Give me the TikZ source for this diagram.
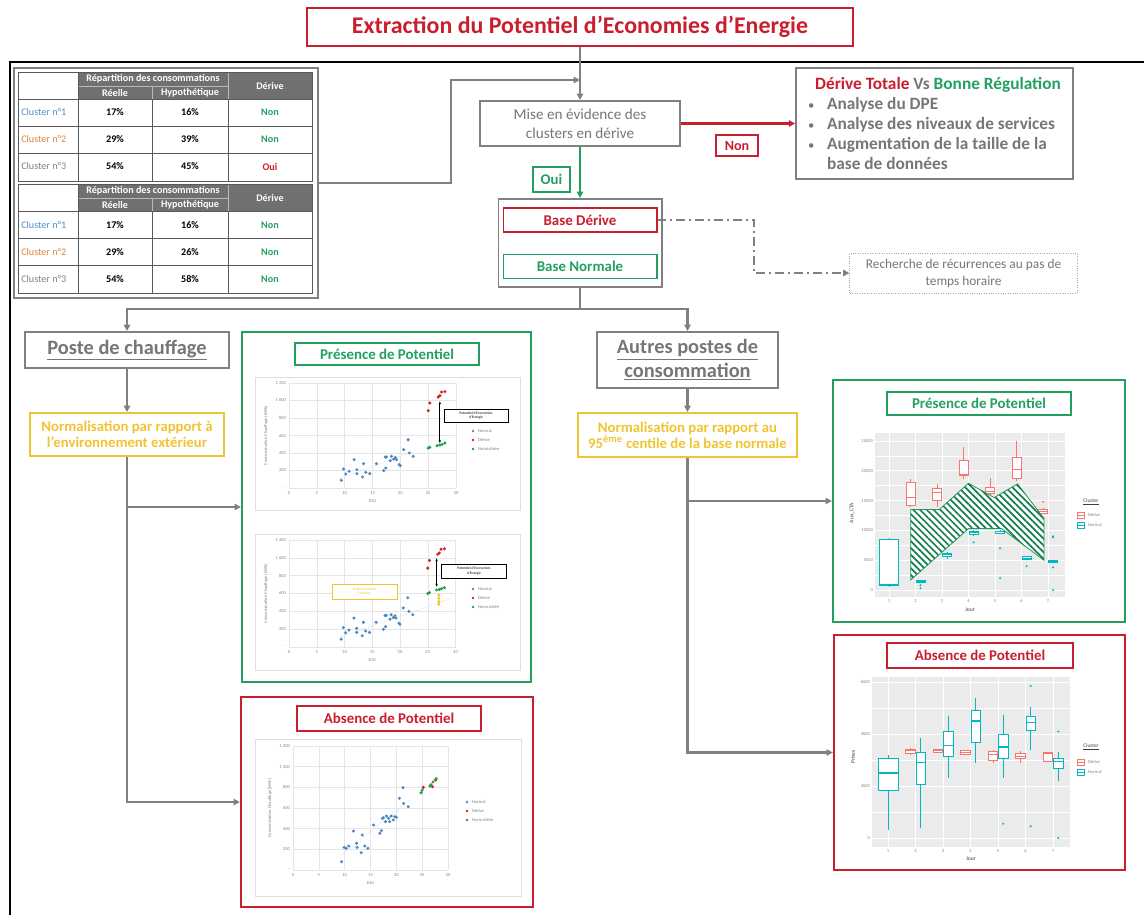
\documentclass[tikz,border=0pt]{standalone}
\usepackage{fontspec}
\setmainfont{Carlito}
\usepackage{tikz}
\usetikzlibrary{arrows.meta,positioning,calc,patterns.meta}

\definecolor{redd}{RGB}{200,30,45}
\definecolor{greenn}{RGB}{35,160,95}
\definecolor{yelloww}{RGB}{240,195,50}
\definecolor{grayy}{RGB}{128,128,128}
\definecolor{txtgray}{RGB}{118,118,118}
\definecolor{tabhead}{RGB}{112,112,112}
\definecolor{clblue}{RGB}{80,140,200}
\definecolor{clorange}{RGB}{215,135,55}
\definecolor{ptblue}{RGB}{80,135,195}
\definecolor{ptred}{RGB}{215,30,35}
\definecolor{ptgreen}{RGB}{30,160,70}
\definecolor{dcol}{RGB}{248,118,109}
\definecolor{ncol}{RGB}{0,185,190}
\definecolor{panelgray}{RGB}{235,235,235}
\definecolor{hatchgreen}{RGB}{25,125,80}

% axes, grid and legend of a DJU scatter chart
\newcommand{\dujaxes}[2]{%
  \foreach \gx in {0,5,...,30}{
    \draw[gridln] ({\gx*\unx},0) -- ({\gx*\unx},{-1200*\uny});
    \node[ticklbl, anchor=north] (xt\gx) at ({\gx*\unx},2) {\gx};}
  \foreach \gy/\gl in {0/-,200/200,400/400,600/600,800/800,1000/1 000,1200/1 200}{
    \draw[gridln] (0,{-\gy*\uny}) -- ({30*\unx},{-\gy*\uny});
    \node[ticklbl, anchor=east] (yt\gy) at (-2,{-\gy*\uny}) {\gl};}
  \node[ticklbl] (djulbl) at ({15*\unx},13) {DJU};
  \node[ticklbl, rotate=90] (conslbl) at (-23,{-600*\uny}) {Consommation Chauffage [kWh]};
  \foreach \ly/\lc/\lt in {0/ptblue/Normal,9/ptred/Dérive,18/ptgreen/Normalisée}{
    \fill[\lc] (#1,{#2+\ly}) circle (1pt);
    \node[ticklbl, anchor=west] (lg\ly) at ({#1+4},{#2+\ly}) {\lt};}
}
% one box of a box plot: pos, half width, low, q1, median, q3, high, colour
\newcommand{\bxp}[8]{%
  \draw[#8, line width=0.4pt] ({\orgx+(#1-1)*\unx},{\orgy-(#3)*\uny}) -- ({\orgx+(#1-1)*\unx},{\orgy-(#7)*\uny});
  \draw[#8, fill=white, line width=0.4pt] ({\orgx+(#1-1-#2)*\unx},{\orgy-(#4)*\uny}) rectangle ({\orgx+(#1-1+#2)*\unx},{\orgy-(#6)*\uny});
  \draw[#8, line width=0.8pt] ({\orgx+(#1-1-#2)*\unx},{\orgy-(#5)*\uny}) -- ({\orgx+(#1-1+#2)*\unx},{\orgy-(#5)*\uny});}
\newcommand{\outl}[3]{\fill[#3] ({\orgx+(#1-1)*\unx},{\orgy-(#2)*\uny}) circle (0.8pt);}
\newcommand{\bul}{{\mdseries\fontsize{9}{9}\selectfont •}\hspace{9pt}}

\begin{document}
\begin{tikzpicture}[x=0.025cm, y=-0.025cm,
    frm/.style={draw, line width=1.4pt, align=center, inner sep=2pt},
    graybox/.style={frm, draw=grayy, text=txtgray},
    redbox/.style={frm, draw=redd, text=redd, fill=white},
    greenbox/.style={frm, draw=greenn, text=greenn, fill=white},
    yellowbox/.style={frm, draw=yelloww, text=yelloww},
    panel/.style={draw, line width=1.5pt, inner sep=0pt},
    conn/.style={draw=grayy, line width=1.6pt, -{Triangle[length=4.5pt,width=4.5pt]}},
    link/.style={draw=grayy, line width=1.6pt},
    nonarrow/.style={draw=redd, line width=1.5pt, -{Triangle[length=4.5pt,width=4.5pt]}},
    ouiarrow/.style={draw=greenn, line width=1.5pt, -{Triangle[length=4.5pt,width=4.5pt]}},
    dasharrow/.style={draw=grayy, line width=1.4pt, dash pattern=on 6pt off 3pt on 1.5pt off 3pt, -{Triangle[length=4.5pt,width=4.5pt]}},
    gridln/.style={gray!20, line width=0.3pt},
    ticklbl/.style={font=\fontsize{3.2}{3.8}\selectfont, text=gray, inner sep=0.6pt},
    headtxt/.style={font=\fontsize{7.2}{8}\selectfont\bfseries, text=white, inner sep=0pt},
    celltxt/.style={font=\fontsize{7.2}{8.5}\selectfont, inner sep=0pt},
    pct/.style={font=\fontsize{7.2}{8.5}\selectfont\bfseries, inner sep=0pt},
    ptitle/.style={font=\fontsize{10.6}{12}\selectfont\bfseries},
]
\useasboundingbox (0,0) rectangle (1144,915);

% outer frame
\draw[black, line width=1.5pt] (10,915) -- (10,62) -- (1144,62);

% top of the flow
\node[redbox, font=\fontsize{17}{20}\selectfont\bfseries, minimum width=13.65cm, minimum height=0.95cm] (title) at (580,27) {Extraction du Potentiel d’Economies d’Energie};
\node[graybox, font=\fontsize{10.8}{13.5}\selectfont, minimum width=5cm, minimum height=1.125cm] (mise) at (580,123.5) {Mise en évidence des\\clusters en dérive};
\node[graybox, line width=1.2pt, align=left, font=\fontsize{12.3}{14.2}\selectfont\bfseries, minimum width=6.925cm, minimum height=2.775cm] (bilan) at (934.5,123.5) {\hspace*{5pt}\textcolor{redd}{Dérive Totale} Vs \textcolor{greenn}{Bonne Régulation}\\\bul Analyse du DPE\\\bul Analyse des niveaux de services\\\bul Augmentation de la taille de la\\\phantom{\bul}base de données};
\node[redbox, font=\fontsize{10}{12}\selectfont\bfseries, line width=1.3pt, minimum width=1.05cm, minimum height=0.525cm] (nonlbl) at (737,145.5) {Non};
\node[greenbox, font=\fontsize{10.5}{12}\selectfont\bfseries, line width=1.3pt, minimum width=0.925cm, minimum height=0.625cm] (oui) at (551.5,179.5) {Oui};
\node[graybox, minimum width=4.075cm, minimum height=2.2cm] (base) at (580,243) {};
\node[redbox, font=\fontsize{10.6}{12}\selectfont\bfseries, minimum width=3.825cm, minimum height=0.6cm] (bderive) at (580,220) {Base Dérive};
\node[greenbox, font=\fontsize{10.6}{12}\selectfont\bfseries, minimum width=3.825cm, minimum height=0.6cm] (bnormale) at (580,266.5) {Base Normale};
\node[draw=grayy!70, densely dotted, line width=0.7pt, text=txtgray, font=\fontsize{9.5}{12}\selectfont, align=center, minimum width=5.675cm, minimum height=1cm] (recherche) at (963.5,273) {Recherche de récurrences au pas de\\temps horaire};

% two branches
\node[graybox, font=\fontsize{14.5}{17}\selectfont\bfseries, minimum width=5.1cm, minimum height=0.9cm] (poste) at (127,350) {\underline{Poste de chauffage}};
\node[yellowbox, font=\fontsize{10.5}{11.5}\selectfont\bfseries, minimum width=4.825cm, minimum height=1.075cm] (normext) at (127,434.5) {Normalisation par rapport à\\l’environnement extérieur};
\node[graybox, font=\fontsize{14.5}{17}\selectfont\bfseries, minimum width=4.525cm, minimum height=1.4cm] (autres) at (687.5,360) {\underline{Autres postes de}\\\underline{consommation}};
\node[yellowbox, font=\fontsize{10.5}{11.5}\selectfont\bfseries, minimum width=5.475cm, minimum height=1.1cm] (normcent) at (687.5,435) {Normalisation par rapport au\\95\textsuperscript{ème} centile de la base normale};

% result panels
\node[panel, draw=greenn, minimum width=7.225cm, minimum height=8.75cm] (pchauf) at (386.5,507) {};
\node[greenbox, ptitle, minimum width=4.6cm, minimum height=0.55cm] (pchaufT) at (387,354) {Présence de Potentiel};
\node[panel, draw=redd, minimum width=7.3cm, minimum height=5.25cm] (achauf) at (387,802) {};
\node[redbox, ptitle, minimum width=4.6cm, minimum height=0.625cm] (achaufT) at (389,718.5) {Absence de Potentiel};
\node[panel, draw=greenn, minimum width=7.3cm, minimum height=6.05cm] (pautre) at (979,501) {};
\node[greenbox, ptitle, minimum width=4.6cm, minimum height=0.575cm] (pautreT) at (979,403.5) {Présence de Potentiel};
\node[panel, draw=redd, minimum width=7.275cm, minimum height=5.875cm] (aautre) at (979.5,752.5) {};
\node[redbox, ptitle, minimum width=4.65cm, minimum height=0.625cm] (aautreT) at (980,655.5) {Absence de Potentiel};

% tables
\node[draw=grayy, line width=1.1pt, minimum width=7.6cm, minimum height=5.75cm, inner sep=0pt] (tabs) at (166,183) {};
\foreach \off/\tn in {0/1,112/2}{
  \fill[tabhead] (78,{72+\off}) rectangle (312,{99+\off});
  \draw[gray!55, line width=0.5pt] (78,{86+\off}) -- (228,{86+\off}) (152,{86+\off}) -- (152,{99+\off}) (228,{72+\off}) -- (228,{99+\off});
  \draw[gray!70!black, line width=0.6pt] (18,{72+\off}) rectangle (312,{181+\off});
  \foreach \ly in {99,126,153} \draw[gray!70!black, line width=0.6pt] (18,{\ly+\off}) -- (312,{\ly+\off});
  \foreach \lx in {78,152,228} \draw[gray!70!black, line width=0.6pt] (\lx,{99+\off}) -- (\lx,{181+\off});
  \draw[gray!70!black, line width=0.6pt] (78,{72+\off}) -- (78,{99+\off});
  \node[headtxt] (rep\tn) at (153,{79+\off}) {Répartition des consommations};
  \node[headtxt] (ree\tn) at (115,{93+\off}) {Réelle};
  \node[headtxt] (hyp\tn) at (190,{93+\off}) {Hypothétique};
  \node[headtxt] (der\tn) at (270,{86+\off}) {Dérive};
}
\foreach \ry/\lab/\lc/\rr/\hh/\dd/\dc in {
    112.5/{Cluster n°1}/clblue/17/16/Non/greenn,
    139.5/{Cluster n°2}/clorange/29/39/Non/greenn,
    166.5/{Cluster n°3}/grayy/54/45/Oui/redd,
    225.5/{Cluster n°1}/clblue/17/16/Non/greenn,
    252.5/{Cluster n°2}/clorange/29/26/Non/greenn,
    279.5/{Cluster n°3}/grayy/54/58/Non/greenn}{
  \node[celltxt, text=\lc, anchor=west] (lab\ry) at (21,\ry) {\lab};
  \node[pct] (re\ry) at (115,\ry) {\rr\%};
  \node[pct] (hy\ry) at (190,\ry) {\hh\%};
  \node[pct, text=\dc] (de\ry) at (270,\ry) {\dd};
}

% connectors
\coordinate (bend) at (451,80);
\coordinate (joint) at (580,80);
\coordinate (turn) at (754,220);
\coordinate (split) at (580,309);
\draw[conn] (title) -- (mise);
\draw[conn] (tabs.east) -| (bend) -- (joint);
\draw[nonarrow] (mise) -- (bilan);
\draw[ouiarrow] (mise) -- (base);
\draw[dasharrow] (bderive) -- (turn) |- (recherche);
\draw[link] (base) -- (split);
\draw[conn] (split) -| (poste);
\draw[conn] (split) -| (autres);
\draw[conn] (poste) -- (normext);
\draw[conn] (autres) -- (normcent);
\draw[conn] (normext) |- (achauf);
\draw[conn] (normext.south |- pchauf.west) -- (pchauf);
\draw[conn] (normcent) |- (aautre);
\draw[conn] (normcent.south |- pautre.west) -- (pautre);

% chart 1
\draw[gray!25, line width=0.4pt] (255,377) rectangle (520,510);
\begin{scope}[shift={(289,488)}]
\def\unx{5.567}\def\uny{0.0875}
\dujaxes{184}{-57}
\draw[ptblue!45, densely dotted, line width=0.4pt] ({9.2*\unx},{-110*\uny}) -- ({22.5*\unx},{-420*\uny});
\foreach \px/\py in {9.4/88,9.8/217,10.2/160,10.8/190,11.7/324,12.2/210,12.2/164,13.2/126,13.4/278,13.8/179,14.5/164,15.7/278,17.0/198,17.3/354,17.4/228,17.5/354,18.2/312,18.4/362,18.8/331,19.1/350,19.3/324,19.8/267,20.0/255,20.6/438,21.4/552,21.6/400,22.3/362}
  \fill[ptblue] ({\px*\unx},{-\py*\uny}) circle (1.2pt);
\foreach \px/\py in {25.0/884,25.3/971,26.8/1040,27.1/1055,27.4/1097,28.0/1101}
  \fill[ptred] ({\px*\unx},{-\py*\uny}) circle (1.2pt);
\foreach \px/\py in {25.0/457,25.3/465,26.6/484,27.1/491,27.5/499,28.0/514}
  \fill[ptgreen] ({\px*\unx},{-\py*\uny}) circle (1.2pt);
\draw[black, line width=0.6pt, {Stealth[length=2.2pt]}-{Stealth[length=2.2pt]}] ({27.1*\unx},{-990*\uny}) -- ({27.1*\unx},{-514*\uny});
\node[draw=black, line width=0.5pt, fill=white, font=\fontsize{2.6}{3}\selectfont, align=center, minimum width=1.6cm, minimum height=0.325cm, inner sep=0.5pt] (pot1) at (187,-72.5) {Potentiel d’Economies\\d’Energie};
\end{scope}

% chart 2
\draw[gray!25, line width=0.4pt] (255,534) rectangle (520,670);
\begin{scope}[shift={(289,647)}]
\def\unx{5.55}\def\uny{0.0892}
\dujaxes{184}{-58}
\draw[ptblue!45, densely dotted, line width=0.4pt] ({9.2*\unx},{-112*\uny}) -- ({29.2*\unx},{-544*\uny});
\foreach \px/\py in {9.4/88,9.8/217,10.2/160,10.8/190,11.7/324,12.2/210,12.2/164,13.2/126,13.4/278,13.8/179,14.5/164,15.7/278,17.0/198,17.3/354,17.4/228,17.5/354,18.2/312,18.4/362,18.8/331,19.1/350,19.3/324,19.8/267,20.0/255,20.6/438,21.4/552,21.6/400,22.3/362}
  \fill[ptblue] ({\px*\unx},{-\py*\uny}) circle (1.2pt);
\foreach \px/\py in {25.0/884,25.3/971,26.8/1040,27.1/1055,27.4/1097,28.0/1101}
  \fill[ptred] ({\px*\unx},{-\py*\uny}) circle (1.2pt);
\foreach \py in {480,510,545,580}
  \fill[yelloww] ({27.0*\unx},{-\py*\uny}) circle (1.2pt);
\foreach \px/\py in {25.0/600,25.3/610,26.6/640,27.1/645,27.5/655,28.0/665}
  \fill[ptgreen] ({\px*\unx},{-\py*\uny}) circle (1.2pt);
\draw[black, line width=0.6pt, {Stealth[length=2.2pt]}-{Stealth[length=2.2pt]}] ({26.6*\unx},{-994*\uny}) -- ({26.6*\unx},{-675*\uny});
\node[draw=black, line width=0.5pt, fill=white, font=\fontsize{2.6}{3}\selectfont, align=center, minimum width=1.625cm, minimum height=0.35cm, inner sep=0.5pt] (pot2) at (185,-76) {Potentiel d’Economies\\d’Energie};
\node[draw=yelloww, line width=0.6pt, fill=white, text=yelloww, font=\fontsize{2.6}{3}\selectfont, align=center, minimum width=1.625cm, minimum height=0.375cm, inner sep=0.5pt] (envext) at (75.5,-55.5) {Environnement\\Extérieur};
\end{scope}

% chart 3
\draw[gray!25, line width=0.4pt] (255,739) rectangle (521,896);
\begin{scope}[shift={(293,870)}]
\def\unx{5.167}\def\uny{0.1033}
\dujaxes{174}{-68}
\draw[ptblue!45, densely dotted, line width=0.4pt] ({9.4*\unx},{-145*\uny}) -- ({22.6*\unx},{-677*\uny});
\foreach \px/\py in {9.4/81,9.9/219,10.3/210,10.8/232,11.7/377,12.3/258,12.4/219,13.2/168,13.4/339,13.9/232,14.5/210,15.6/435,16.8/355,17.1/381,17.3/500,17.5/506,17.9/468,18.1/522,18.5/500,18.7/468,19.0/522,19.4/484,19.7/516,20.0/510,20.6/694,21.3/797,21.4/645,22.3/613}
  \fill[ptblue] ({\px*\unx},{-\py*\uny}) circle (1.2pt);
\foreach \px/\py in {25.2/800,27.0/806,27.6/871}
  \fill[ptred] ({\px*\unx},{-\py*\uny}) circle (1.2pt);
\foreach \px/\py in {24.8/748,25.0/774,26.5/813,26.7/826,27.1/852,27.7/884}
  \fill[ptgreen] ({\px*\unx},{-\py*\uny}) circle (1.2pt);
\end{scope}

% box plot, Aux_CTA
\begin{scope}
\def\orgx{889}\def\orgy{590}\def\unx{26.5}\def\uny{5.96}
\fill[panelgray] (875,433) rectangle (1065,597);
\foreach \v in {2.5,7.5,12.5,17.5,22.5} \draw[white, line width=0.3pt] (875,{\orgy-\v*\uny}) -- (1065,{\orgy-\v*\uny});
\foreach \v/\vl in {0/0,5/5000,10/10000,15/15000,20/20000,25/25000}{
  \draw[white, line width=0.6pt] (875,{\orgy-\v*\uny}) -- (1065,{\orgy-\v*\uny});
  \node[ticklbl, anchor=east] (ya\v) at (874,{\orgy-\v*\uny}) {\vl};}
\foreach \d in {1,...,7}{
  \draw[white, line width=0.6pt] ({\orgx+(\d-1)*\unx},433) -- ({\orgx+(\d-1)*\unx},597);
  \node[ticklbl, anchor=north] (xa\d) at ({\orgx+(\d-1)*\unx},598) {\d};}
\bxp{1}{0.36}{0.5}{0.8}{0.9}{8.5}{8.8}{ncol}
\bxp{1.81}{0.17}{14}{14.2}{15.5}{18}{18.6}{dcol}
\bxp{2.19}{0.17}{1.2}{1.3}{1.5}{1.6}{1.7}{ncol}
\bxp{2.81}{0.17}{14}{15}{16.3}{17}{17.8}{dcol}
\bxp{3.19}{0.17}{5.2}{5.6}{6.0}{6.2}{6.4}{ncol}
\bxp{3.81}{0.17}{18.6}{19.2}{19.3}{21.8}{24}{dcol}
\bxp{4.19}{0.17}{9}{9.3}{9.6}{9.9}{10}{ncol}
\bxp{4.81}{0.17}{15.8}{16.3}{16.6}{17.2}{18.8}{dcol}
\bxp{5.19}{0.17}{9.5}{9.6}{9.8}{9.9}{10}{ncol}
\bxp{5.81}{0.17}{18.3}{18.7}{20.2}{22.3}{25}{dcol}
\bxp{6.19}{0.17}{5}{5.1}{5.3}{5.6}{5.7}{ncol}
\bxp{6.81}{0.17}{12.8}{12.9}{13.2}{13.6}{13.8}{dcol}
\bxp{7.19}{0.17}{4.5}{4.6}{4.8}{5}{5.1}{ncol}
\outl{2.19}{0.8}{ncol}\outl{2.19}{0.3}{ncol}\outl{4.19}{8}{ncol}
\outl{5.19}{7}{ncol}\outl{5.19}{2}{ncol}\outl{6.19}{4}{ncol}
\outl{6.81}{14.8}{dcol}\outl{7.19}{9}{ncol}\outl{7.19}{8.8}{ncol}
\outl{7.19}{3.8}{ncol}\outl{7.19}{0}{ncol}
% hatched potential area
\draw[greenn, line width=0.6pt, fill=white, postaction={pattern={Lines[angle=-45,distance=3.4pt,line width=1.2pt]}, pattern color=hatchgreen}]
  (910.7,509.5) -- (939.4,509.5) -- (968.5,483.3) -- (994.2,497.6) -- (1017.5,483.9) -- (1044,518.5)
  -- (1044,560.2) -- (1001.6,528.6) -- (968.5,528.6) -- (910.7,579.9) -- cycle;
\node[ticklbl, text=black!75, font=\fontsize{4}{5}\selectfont] (jourA) at (970,610) {Jour};
\node[ticklbl, text=black!75, font=\fontsize{4}{5}\selectfont, rotate=90] (auxA) at (852,513) {Aux\_CTA};
\node[ticklbl, text=black!75, font=\fontsize{3.8}{4.5}\selectfont] (clA) at (1091,502) {\underline{Cluster}};
\draw[dcol, line width=0.4pt, fill=white] (1077,512) rectangle (1084,518) (1077,515) -- (1084,515);
\draw[ncol, line width=0.4pt, fill=white] (1077,522) rectangle (1084,528) (1077,525) -- (1084,525);
\node[ticklbl, anchor=west] (dlA) at (1087,515) {Dérive};
\node[ticklbl, anchor=west] (nlA) at (1087,525) {Normal};
\end{scope}

% box plot, Prises
\begin{scope}
\def\orgx{888}\def\orgy{838}\def\unx{27.5}\def\uny{26}
\fill[panelgray] (872,677) rectangle (1070,847);
\foreach \v in {1,3,5} \draw[white, line width=0.3pt] (872,{\orgy-\v*\uny}) -- (1070,{\orgy-\v*\uny});
\foreach \v/\vl in {0/0,2/2000,4/4000,6/6000}{
  \draw[white, line width=0.6pt] (872,{\orgy-\v*\uny}) -- (1070,{\orgy-\v*\uny});
  \node[ticklbl, anchor=east] (yb\v) at (871,{\orgy-\v*\uny}) {\vl};}
\foreach \d in {1,...,7}{
  \draw[white, line width=0.6pt] ({\orgx+(\d-1)*\unx},677) -- ({\orgx+(\d-1)*\unx},847);
  \node[ticklbl, anchor=north] (xb\d) at ({\orgx+(\d-1)*\unx},848) {\d};}
\bxp{1}{0.36}{0.3}{1.85}{2.5}{3.05}{3.2}{ncol}
\bxp{1.81}{0.17}{3.2}{3.25}{3.35}{3.4}{3.45}{dcol}
\bxp{2.19}{0.17}{0.4}{2.05}{2.9}{3.3}{3.85}{ncol}
\bxp{2.81}{0.17}{3.3}{3.3}{3.35}{3.4}{3.4}{dcol}
\bxp{3.19}{0.17}{2.3}{3.15}{3.55}{4.1}{4.7}{ncol}
\bxp{3.81}{0.17}{3.2}{3.22}{3.3}{3.38}{3.4}{dcol}
\bxp{4.19}{0.17}{2.9}{3.7}{4.5}{4.9}{5.4}{ncol}
\bxp{4.81}{0.17}{2.9}{3.0}{3.2}{3.35}{3.4}{dcol}
\bxp{5.19}{0.17}{2.3}{3.05}{3.5}{4.0}{4.75}{ncol}
\bxp{5.81}{0.17}{2.9}{3.05}{3.15}{3.25}{3.35}{dcol}
\bxp{6.19}{0.17}{3.4}{4.15}{4.45}{4.7}{5.05}{ncol}
\bxp{6.81}{0.17}{2.95}{2.95}{3.25}{3.3}{3.3}{dcol}
\bxp{7.19}{0.17}{2.2}{2.7}{2.95}{3.05}{3.3}{ncol}
\outl{5.19}{0.55}{ncol}\outl{6.19}{5.85}{ncol}\outl{6.19}{0.45}{ncol}
\outl{7.19}{4.1}{ncol}\outl{7.19}{0}{ncol}
\node[ticklbl, text=black!75, font=\fontsize{4}{5}\selectfont] (jourB) at (971,859) {Jour};
\node[ticklbl, text=black!75, font=\fontsize{4}{5}\selectfont, rotate=90] (prisesB) at (853,757) {Prises};
\node[ticklbl, text=black!75, font=\fontsize{3.8}{4.5}\selectfont] (clB) at (1091,747) {\underline{Cluster}};
\draw[dcol, line width=0.4pt, fill=white] (1077,759) rectangle (1084,765) (1077,762) -- (1084,762);
\draw[ncol, line width=0.4pt, fill=white] (1077,769) rectangle (1084,775) (1077,772) -- (1084,772);
\node[ticklbl, anchor=west] (dlB) at (1087,762) {Dérive};
\node[ticklbl, anchor=west] (nlB) at (1087,772) {Normal};
\end{scope}
\end{tikzpicture}
\end{document}
